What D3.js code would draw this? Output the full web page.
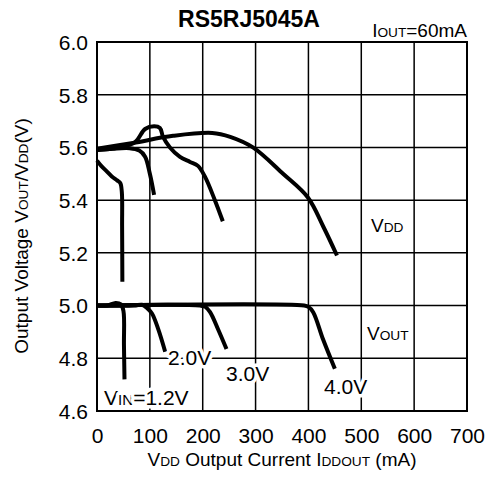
<!DOCTYPE html>
<html><head><meta charset="utf-8">
<script src="https://cdn.jsdelivr.net/npm/d3@7"></script>
</head><body style="margin:0;background:#fff"><svg id="c" width="485" height="479" style="display:block"></svg>
<script>
// ---- data (x: mA, y: V) ----
const xTicks = [0,100,200,300,400,500,600,700];
const yTicks = [4.6,4.8,5.0,5.2,5.4,5.6,5.8,6.0];
const vdd12 = [[0,5.55],[8,5.53],[18,5.51],[28,5.49],[38,5.475],[44,5.465],[47,5.43],[47.5,5.3],[48,5.09]];
const vdd20 = [[0,5.59],[30,5.595],[62,5.597],[80,5.588],[91,5.565],[100,5.50],[108,5.42]];
const vdd30 = [[0,5.59],[40,5.60],[72,5.62],[91,5.67],[108,5.68],[119,5.674],[125,5.64],[138,5.60],[157,5.564],[176,5.545],[191,5.53],[204,5.49],[223,5.40],[238,5.32]];
const vdd40 = [[0,5.595],[68,5.617],[144,5.644],[218,5.655],[252,5.64],[295,5.60],[352,5.50],[399,5.41],[428,5.30],[454,5.19]];
const vout12 = [[0,5.0],[20,5.0],[35,5.01],[45,5.005],[50,4.98],[51,4.85],[52,4.72]];
const vout20 = [[0,5.0],[70,5.0],[85,5.003],[95,4.99],[104,4.97],[116,4.91],[129,4.825]];
const vout30 = [[0,5.0],[195,5.0],[205,4.995],[214,4.975],[229,4.91],[245,4.835]];
const vout40 = [[0,5.0],[392,5.0],[400,4.995],[409,4.975],[428,4.87],[450,4.76]];
const series = [vdd12,vdd20,vdd30,vdd40,vout12,vout20,vout30,vout40];

const FONT = "Liberation Sans, Arial, sans-serif";
const svg = d3.select("#c").attr("font-family",FONT);
const L=97,R=467,T=42,B=411;
const x = d3.scaleLinear().domain([0,700]).range([L,R]);
const y = d3.scaleLinear().domain([4.6,6.0]).range([B,T]);

// grid drawn as one path built from the scales
const gp = d3.path();
xTicks.forEach(v=>{ gp.moveTo(x(v),y(4.6)); gp.lineTo(x(v),y(6.0)); });
yTicks.forEach(v=>{ gp.moveTo(x(0),y(v)); gp.lineTo(x(700),y(v)); });
svg.append("path").attr("class","gridpath").attr("d",gp.toString())
 .attr("fill","none").attr("stroke","#000").attr("stroke-width",1.5);
svg.append("rect").attr("x",L).attr("y",T).attr("width",R-L).attr("height",B-T)
 .attr("fill","none").attr("stroke","#000").attr("stroke-width",2);

// tick labels (from the axes)
const xa = svg.append("g").attr("transform",`translate(0,${B})`)
 .call(d3.axisBottom(x).tickValues(xTicks).tickSize(0).tickPadding(0).tickFormat(d3.format("d")));
xa.select(".domain").remove();
xa.selectAll(".tick line").remove();
xa.attr("font-family",FONT);
xa.selectAll("text").attr("font-size",21).attr("fill","#000").attr("dy",null).attr("y",32);
const ya = svg.append("g").attr("transform",`translate(${L},0)`)
 .call(d3.axisLeft(y).tickValues(yTicks).tickSize(0).tickPadding(0).tickFormat(d3.format(".1f")));
ya.select(".domain").remove();
ya.selectAll(".tick line").remove();
ya.attr("font-family",FONT);
ya.selectAll("text").attr("font-size",21).attr("fill","#000").attr("x",-9).attr("dy","0.35em");

// curves
const lineGen = d3.line().x(d=>x(d[0])).y(d=>y(d[1])).curve(d3.curveCatmullRom.alpha(0.5));
svg.selectAll("path.curve").data(series).enter().append("path").attr("class","curve")
 .attr("d",lineGen).attr("fill","none").attr("stroke","#000").attr("stroke-width",4).attr("stroke-linejoin","round");

function label(px,py,parts,size,anchor){
  const t = svg.append("text").attr("x",px).attr("y",py).attr("font-size",size).attr("fill","#000").attr("text-anchor",anchor||"start");
  parts.forEach(p=>t.append("tspan").text(p[0]).attr("font-size",p[1]?size*0.72:size));
  return t;
}
function haloed(px,py,parts,size){
  const t = label(px,py,parts,size);
  t.attr("stroke","#fff").attr("stroke-width",7).attr("stroke-linejoin","round").attr("paint-order","stroke");
  return t;
}
haloed(168,365,[["2.0V"]],21);
haloed(226,381,[["3.0V"]],21);
haloed(324,394,[["4.0V"]],21);
haloed(104,405,[["V"],["IN",1],["=1.2V"]],21);
haloed(367,340,[["V"],["OUT",1]],19);
label(371,232,[["V"],["DD",1]],19);

// titles
svg.append("text").attr("x",249).attr("y",27).attr("text-anchor","middle").attr("font-size",23).attr("font-weight","bold").attr("fill","#000").text("RS5RJ5045A");
label(467,37,[["I"],["OUT",1],["=60mA"]],19,"end");
label(282,466,[["V"],["DD",1],[" Output Current I"],["DDOUT",1],[" (mA)"]],19,"middle");
const yt = svg.append("text").attr("transform","translate(28,236) rotate(-90)").attr("text-anchor","middle").attr("font-size",19).attr("fill","#000");
[["Output Voltage V"],["OUT",1],["/V"],["DD",1],["(V)"]].forEach(p=>yt.append("tspan").text(p[0]).attr("font-size",p[1]?19*0.72:19));
</script></body></html>
